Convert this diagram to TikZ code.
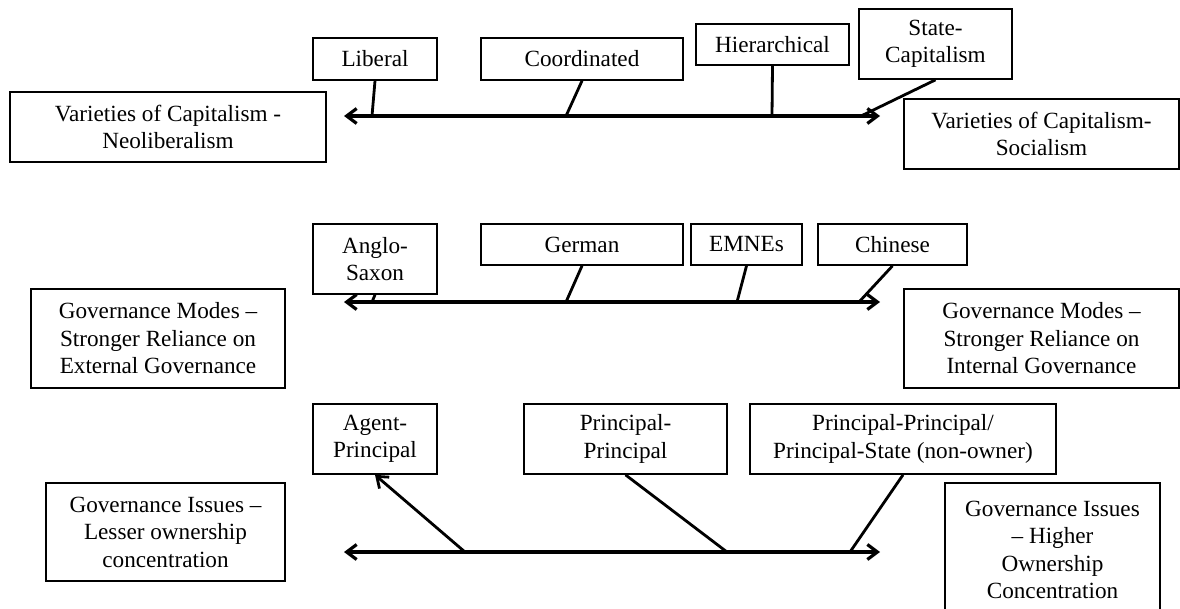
\documentclass[tikz,border=0pt]{standalone}
\usepackage{fontspec}
\setmainfont{Liberation Serif}
\usetikzlibrary{arrows.meta}

\begin{document}
\begin{tikzpicture}[x=1pt, y=-1pt]

  \tikzstyle{box} = [draw, line width=1.7, align=center, inner sep=0, font=\fontsize{23.2}{27.5}\selectfont]
  \tikzstyle{axis} = [line width=3.2, {Straight Barb[length=10pt, width=15pt]}-{Straight Barb[length=10pt, width=15pt]}]
  \tikzstyle{link} = [line width=2.8]

  \useasboundingbox (0,0) rectangle (1180,608);
  \clip (0,0) rectangle (1180,608);

  % varieties of capitalism
  \node[box, minimum width=316pt, minimum height=70pt] (vocN) at (168,127) {Varieties of Capitalism -\\Neoliberalism};
  \node[box, minimum width=275pt, minimum height=70pt] (vocS) at (1041.5,134) {Varieties of Capitalism-\\Socialism};

  \node[box, minimum width=124pt, minimum height=42pt] (liberal) at (375,59) {Liberal};
  \node[box, minimum width=202pt, minimum height=42pt] (coord) at (582,59) {Coordinated};
  \node[box, minimum width=153pt, minimum height=41pt] (hier) at (772.5,44.5) {Hierarchical};
  \node[box, minimum width=153pt, minimum height=70pt] (statecap) at (935.5,44) {State-\\Capitalism};

  \coordinate (a1l) at (344,116);
  \coordinate (a1r) at (880,116);
  \draw[axis] (a1l) -- (a1r);

  \coordinate (a1lib) at (372,116);
  \coordinate (a1coord) at (566,116);
  \coordinate (a1hier) at (772,116);
  \coordinate (a1state) at (861,116);
  \draw[link] (liberal.south) -- (a1lib);
  \draw[link] (coord.south) -- (a1coord);
  \draw[link] (hier.south) -- (a1hier);
  \draw[link] (statecap.south) -- (a1state);

  % governance modes
  \node[box, minimum width=254pt, minimum height=99pt] (gmExt) at (158,338.5) {Governance Modes –\\Stronger Reliance on\\External Governance};
  \node[box, minimum width=275pt, minimum height=99pt] (gmInt) at (1041.5,338.5) {Governance Modes –\\Stronger Reliance on\\Internal Governance};

  \node[box, minimum width=124pt, minimum height=70pt] (anglo) at (375,259) {Anglo-\\Saxon};
  \node[box, minimum width=202pt, minimum height=41pt] (german) at (582,244.5) {German};
  \node[box, minimum width=111pt, minimum height=41pt] (emnes) at (746.5,244.5) {EMNEs};
  \node[box, minimum width=149pt, minimum height=41pt] (chinese) at (892.5,244.5) {Chinese};

  \coordinate (a2l) at (344,302);
  \coordinate (a2r) at (880,302);
  \draw[axis] (a2l) -- (a2r);

  \coordinate (a2anglo) at (372,302);
  \coordinate (a2german) at (566,302);
  \coordinate (a2emnes) at (737,302);
  \coordinate (a2chinese) at (859,302);
  \draw[link] (anglo.south) -- (a2anglo);
  \draw[link] (german.south) -- (a2german);
  \draw[link] (emnes.south) -- (a2emnes);
  \draw[link] (chinese.south) -- (a2chinese);

  % governance issues
  \node[box, minimum width=239pt, minimum height=98pt] (giLow) at (165.5,532) {Governance Issues –\\Lesser ownership\\concentration};
  \node[box, minimum width=215pt, minimum height=134pt] (giHigh) at (1052.5,550) {Governance Issues\\– Higher\\Ownership\\Concentration};

  \node[box, minimum width=124pt, minimum height=70pt] (agent) at (375,439) {Agent-\\Principal};
  \node[box, minimum width=203pt, minimum height=70pt] (pp) at (625.5,439) {Principal-\\Principal};
  \node[box, minimum width=306pt, minimum height=70pt] (pps) at (903,439) {Principal-Principal/\\Principal-State (non-owner)};

  \coordinate (a3l) at (344,552);
  \coordinate (a3r) at (880,552);
  \draw[axis] (a3l) -- (a3r);

  \coordinate (a3agent) at (465,552);
  \coordinate (a3pp) at (727,552);
  \coordinate (a3pps) at (850,552);
  \draw[link, -{Straight Barb[length=10pt, width=15pt]}] (a3agent) -- (agent.south);
  \draw[link] (pp.south) -- (a3pp);
  \draw[link] (pps.south) -- (a3pps);

\end{tikzpicture}
\end{document}
